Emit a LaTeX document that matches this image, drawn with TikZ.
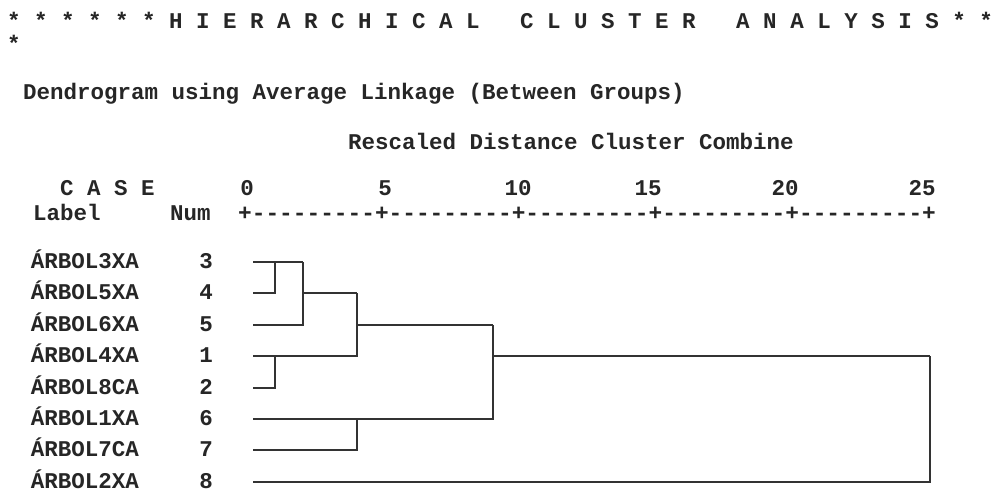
\documentclass[tikz,border=0pt]{standalone}
\usepackage{fontspec}
\setmonofont{Liberation Mono}
\usepackage{tikz}
\usetikzlibrary{positioning}

\begin{document}
\begin{tikzpicture}[x=1pt, y=-1pt,
		node distance = 31.4pt,
		every node/.style = {inner sep=0pt, text=black!85, font=\fontsize{22.5}{27}\selectfont\ttfamily\bfseries},
		txt/.style = {anchor=base west},
		tick/.style = {anchor=base},
		lbl/.style = {on grid, text height=13pt, text depth=0pt},
		link/.style = {line width=2pt, draw=black!80}
		]
		\useasboundingbox (0,0) rectangle (991,490);
		
		%heading
		\node (title) [txt] at (7,28) {* * * * * * H I E R A R C H I C A L~~~C L U S T E R~~~A N A L Y S I S * *};
		\node (wrap) [txt] at (7,51) {*};
		\node (method) [txt] at (23,99) {Dendrogram using Average Linkage (Between Groups)};
		\node (scale) [txt] at (348,149) {Rescaled Distance Cluster Combine};
		
		%axis
		\node (case) [txt] at (60,195) {C A S E};
		\node (label) [txt] at (33,220) {Label};
		\node (num) [txt] at (170,220) {Num};
		\node (axis) [txt, font=\fontsize{22.8}{27}\selectfont\ttfamily\bfseries] at (238,220) {+---------+---------+---------+---------+---------+};
		\node (t0) [tick] at (247,195) {0};
		\node (t5) [tick] at (385,195) {5};
		\node (t10) [tick] at (518,195) {10};
		\node (t15) [tick] at (648,195) {15};
		\node (t20) [tick] at (785,195) {20};
		\node (t25) [tick] at (922,195) {25};
		
		%cases
		\node (a3) [lbl] at (85,262)     {ÁRBOL3XA};
		\node (a4) [lbl,below=of a3]   {ÁRBOL5XA};
		\node (a5) [lbl,below=of a4]   {ÁRBOL6XA};
		\node (a1) [lbl,below=of a5]   {ÁRBOL4XA};
		\node (a2) [lbl,below=of a1]   {ÁRBOL8CA};
		\node (a6) [lbl,below=of a2]   {ÁRBOL1XA};
		\node (a7) [lbl,below=of a6]   {ÁRBOL7CA};
		\node (a8) [lbl,below=of a7]   {ÁRBOL2XA};
		
		\node (n3) [lbl,right=121pt of a3]   {3};
		\node (n4) [lbl,right=121pt of a4]   {4};
		\node (n5) [lbl,right=121pt of a5]   {5};
		\node (n1) [lbl,right=121pt of a1]   {1};
		\node (n2) [lbl,right=121pt of a2]   {2};
		\node (n6) [lbl,right=121pt of a6]   {6};
		\node (n7) [lbl,right=121pt of a7]   {7};
		\node (n8) [lbl,right=121pt of a8]   {8};
		
		%merge levels
		\coordinate (h0) at (253,0);
		\coordinate (h1) at (275,0);
		\coordinate (h2) at (303,0);
		\coordinate (h3) at (357,0);
		\coordinate (h4) at (493,0);
		\coordinate (h5) at (930,0);
		
		\coordinate (s3) at (n3 -| h0);
		\coordinate (s4) at (n4 -| h0);
		\coordinate (s5) at (n5 -| h0);
		\coordinate (s1) at (n1 -| h0);
		\coordinate (s2) at (n2 -| h0);
		\coordinate (s6) at (n6 -| h0);
		\coordinate (s7) at (n7 -| h0);
		\coordinate (s8) at (n8 -| h0);
		
		%dendrogram
		\draw[link] (s3) -- (h2 |- s3);
		\draw[link] (s4) -| (h1 |- s3);
		\draw[link] (s5) -| (h2 |- s3);
		\draw[link] (h2 |- s4) -- (h3 |- s4);
		\draw[link] (s1) -| (h3 |- s4);
		\draw[link] (s2) -| (h1 |- s1);
		\draw[link] (h3 |- s5) -- (h4 |- s5);
		\draw[link] (s6) -| (h4 |- s5);
		\draw[link] (s7) -| (h3 |- s6);
		\draw[link] (h4 |- s1) -- (h5 |- s1);
		\draw[link] (s8) -| (h5 |- s1);
		
\end{tikzpicture}
\end{document}
